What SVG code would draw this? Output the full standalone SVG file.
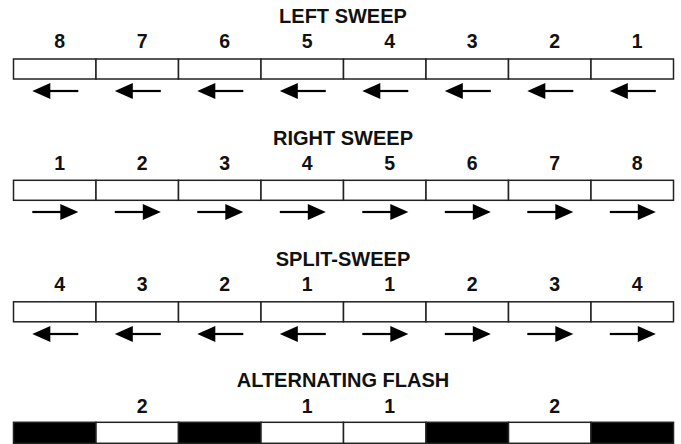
<svg xmlns="http://www.w3.org/2000/svg" xmlns:xlink="http://www.w3.org/1999/xlink" width="681" height="444" viewBox="0 0 681 444">
<style>
.t{font-family:"Liberation Sans",Arial,sans-serif;font-weight:bold;font-size:20px;fill:#111;text-anchor:middle}
.n{font-family:"Liberation Sans",Arial,sans-serif;font-weight:bold;font-size:19.5px;fill:#111;text-anchor:middle}
.c{fill:#fff;stroke:#222;stroke-width:1.5}
.k{fill:#000;stroke:#222;stroke-width:1.5}
</style>
<defs>
<g id="aR"><line x1="-23" y1="0" x2="6" y2="0" stroke="#000" stroke-width="2.2"/><polygon points="23,0 5,-8 5,8" fill="#000"/></g>
<g id="aL"><line x1="23" y1="0" x2="-6" y2="0" stroke="#000" stroke-width="2.2"/><polygon points="-23,0 -5,-8 -5,8" fill="#000"/></g>
</defs>
<rect width="681" height="444" fill="#fff"/>

<g id="left-sweep">
<text class="t" x="343" y="22.7">LEFT SWEEP</text>
<g class="n"><text x="59.8" y="48.3">8</text><text x="142.3" y="48.3">7</text><text x="224.8" y="48.3">6</text><text x="307.3" y="48.3">5</text><text x="389.8" y="48.3">4</text><text x="472.3" y="48.3">3</text><text x="554.8" y="48.3">2</text><text x="637.3" y="48.3">1</text></g>
<rect class="c" x="13.5" y="59" width="82.5" height="20"/><rect class="c" x="96" y="59" width="82.5" height="20"/><rect class="c" x="178.5" y="59" width="82.5" height="20"/><rect class="c" x="261" y="59" width="82.5" height="20"/><rect class="c" x="343.5" y="59" width="82.5" height="20"/><rect class="c" x="426" y="59" width="82.5" height="20"/><rect class="c" x="508.5" y="59" width="82.5" height="20"/><rect class="c" x="591" y="59" width="82.5" height="20"/>
</g>

<g id="right-sweep">
<text class="t" x="343" y="144.5">RIGHT SWEEP</text>
<g class="n"><text x="59.8" y="169.5">1</text><text x="142.3" y="169.5">2</text><text x="224.8" y="169.5">3</text><text x="307.3" y="169.5">4</text><text x="389.8" y="169.5">5</text><text x="472.3" y="169.5">6</text><text x="554.8" y="169.5">7</text><text x="637.3" y="169.5">8</text></g>
<rect class="c" x="13.5" y="180.3" width="82.5" height="20"/><rect class="c" x="96" y="180.3" width="82.5" height="20"/><rect class="c" x="178.5" y="180.3" width="82.5" height="20"/><rect class="c" x="261" y="180.3" width="82.5" height="20"/><rect class="c" x="343.5" y="180.3" width="82.5" height="20"/><rect class="c" x="426" y="180.3" width="82.5" height="20"/><rect class="c" x="508.5" y="180.3" width="82.5" height="20"/><rect class="c" x="591" y="180.3" width="82.5" height="20"/>
</g>

<g id="split-sweep">
<text class="t" x="343" y="266">SPLIT-SWEEP</text>
<g class="n"><text x="59.8" y="291">4</text><text x="142.3" y="291">3</text><text x="224.8" y="291">2</text><text x="307.3" y="291">1</text><text x="389.8" y="291">1</text><text x="472.3" y="291">2</text><text x="554.8" y="291">3</text><text x="637.3" y="291">4</text></g>
<rect class="c" x="13.5" y="301.8" width="82.5" height="20"/><rect class="c" x="96" y="301.8" width="82.5" height="20"/><rect class="c" x="178.5" y="301.8" width="82.5" height="20"/><rect class="c" x="261" y="301.8" width="82.5" height="20"/><rect class="c" x="343.5" y="301.8" width="82.5" height="20"/><rect class="c" x="426" y="301.8" width="82.5" height="20"/><rect class="c" x="508.5" y="301.8" width="82.5" height="20"/><rect class="c" x="591" y="301.8" width="82.5" height="20"/>
</g>

<g id="alternating-flash">
<text class="t" x="343" y="387">ALTERNATING FLASH</text>
<g class="n"><text x="142.3" y="412.8">2</text><text x="307.3" y="412.8">1</text><text x="389.8" y="412.8">1</text><text x="554.8" y="412.8">2</text></g>
<rect class="k" x="13.5" y="422.3" width="82.5" height="21"/><rect class="c" x="96" y="422.3" width="82.5" height="21"/><rect class="k" x="178.5" y="422.3" width="82.5" height="21"/><rect class="c" x="261" y="422.3" width="82.5" height="21"/><rect class="c" x="343.5" y="422.3" width="82.5" height="21"/><rect class="k" x="426" y="422.3" width="82.5" height="21"/><rect class="c" x="508.5" y="422.3" width="82.5" height="21"/><rect class="k" x="591" y="422.3" width="82.5" height="21"/>
</g>

<g id="arrows">
<use xlink:href="#aL" x="55.3" y="91"/><use xlink:href="#aL" x="137.8" y="91"/><use xlink:href="#aL" x="220.3" y="91"/><use xlink:href="#aL" x="302.8" y="91"/><use xlink:href="#aL" x="385.3" y="91"/><use xlink:href="#aL" x="467.8" y="91"/><use xlink:href="#aL" x="550.3" y="91"/><use xlink:href="#aL" x="632.8" y="91"/>
<use xlink:href="#aR" x="55.3" y="212"/><use xlink:href="#aR" x="137.8" y="212"/><use xlink:href="#aR" x="220.3" y="212"/><use xlink:href="#aR" x="302.8" y="212"/><use xlink:href="#aR" x="385.3" y="212"/><use xlink:href="#aR" x="467.8" y="212"/><use xlink:href="#aR" x="550.3" y="212"/><use xlink:href="#aR" x="632.8" y="212"/>
<use xlink:href="#aL" x="55.3" y="334"/><use xlink:href="#aL" x="137.8" y="334"/><use xlink:href="#aL" x="220.3" y="334"/><use xlink:href="#aL" x="302.8" y="334"/><use xlink:href="#aR" x="385.3" y="334"/><use xlink:href="#aR" x="467.8" y="334"/><use xlink:href="#aR" x="550.3" y="334"/><use xlink:href="#aR" x="632.8" y="334"/>
</g>
</svg>
